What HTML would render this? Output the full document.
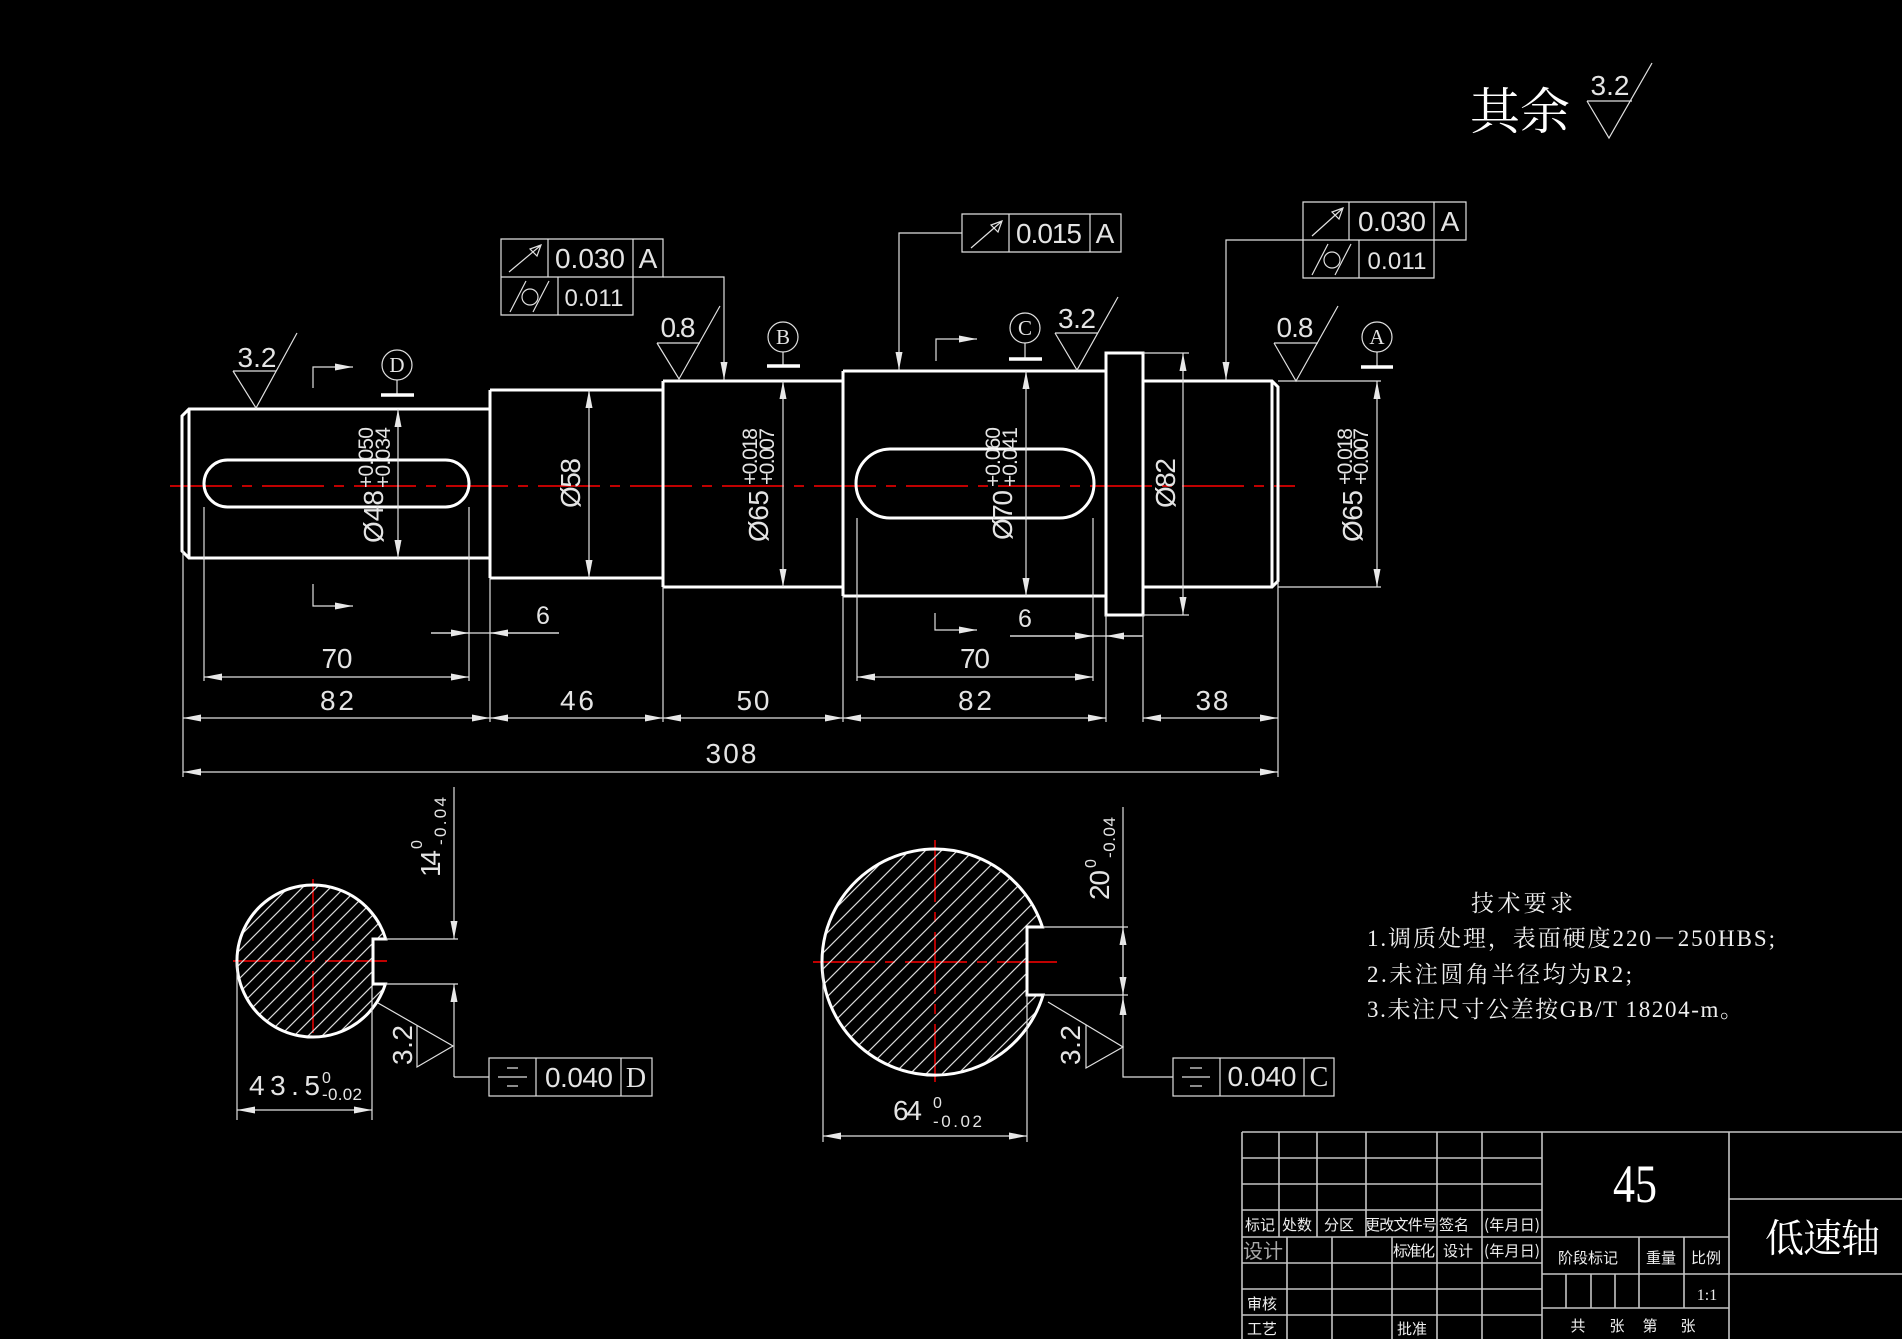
<!DOCTYPE html>
<html><head><meta charset="utf-8">
<style>html,body{margin:0;padding:0;background:#000;overflow:hidden}svg{display:block}</style>
</head><body>
<svg width="1902" height="1339" viewBox="0 0 1902 1339" xmlns="http://www.w3.org/2000/svg">
<defs>
<marker id="a" viewBox="0 0 18 7" refX="18" refY="3.5" markerWidth="18" markerHeight="7" markerUnits="userSpaceOnUse" orient="auto-start-reverse"><path d="M0,0L18,3.5L0,7z" fill="#e8e8e8"/></marker>
<pattern id="h1" patternUnits="userSpaceOnUse" width="14" height="14"><path d="M0,14L14,0M-4,4L4,-4M10,18L18,10" stroke="#d8d8d8" stroke-width="1.2"/></pattern>
<pattern id="h2" patternUnits="userSpaceOnUse" width="16" height="16"><path d="M0,16L16,0M-4,4L4,-4M12,20L20,12" stroke="#d8d8d8" stroke-width="1.2"/></pattern>
</defs>
<rect width="1902" height="1339" fill="#000"/>

<!-- centerlines -->
<g stroke="#ff0000" stroke-width="1.4" fill="none" stroke-dasharray="62,10,10,10">
<line x1="170" y1="486" x2="1295" y2="486"/>
<line x1="233" y1="961" x2="393" y2="961"/>
<line x1="313" y1="879" x2="313" y2="1042"/>
<line x1="813" y1="962" x2="1057" y2="962"/>
<line x1="935" y1="840" x2="935" y2="1082"/>
</g>

<!-- section fills -->
<path d="M385.7,939 L373,939 L373,984 L385.4,984 A76,76 0 1,1 385.7,939 Z" fill="url(#h1)" stroke="#fff" stroke-width="3"/>
<path d="M1042.4,927 L1027,927 L1027,995 L1043.1,995 A113,113 0 1,1 1042.4,927 Z" fill="url(#h2)" stroke="#fff" stroke-width="3"/>

<!-- shaft outline -->
<g stroke="#fff" stroke-width="3" fill="none" stroke-linejoin="miter">
<path d="M490,409 H189 L182,416 V551 L189,558 H490"/>
<path d="M189,409 V558"/>
<path d="M490,390 V578 M490,390 H663 M490,578 H663"/>
<path d="M663,381 V587 M663,381 H843 M663,587 H843"/>
<path d="M843,371 V596 M843,371 H1106 M843,596 H1106"/>
<rect x="1106" y="353" width="37" height="262"/>
<path d="M1143,381 H1272 L1278,387 V581 L1272,587 H1143"/>
<path d="M1272,381 V587"/>
<rect x="204" y="460" width="265" height="47" rx="23.5"/>
<rect x="856" y="449" width="238" height="69" rx="34.5"/>
</g>

<!-- thin lines -->
<g stroke="#e0e0e0" stroke-width="1.2" fill="none">
<path d="M183,551 V777 M204,507 V681 M469,507 V681 M490,578 V722 M663,587 V722 M843,596 V722 M857,518 V681 M1093,518 V681 M1106,615 V722 M1143,615 V722 M1278,581 V777"/>
<path d="M1143,353 H1189 M1143,615 H1189 M1278,381 H1381 M1278,587 H1381"/>
<g marker-start="url(#a)" marker-end="url(#a)">
<line x1="204" y1="677" x2="469" y2="677"/>
<line x1="183" y1="718" x2="490" y2="718"/>
<line x1="490" y1="718" x2="663" y2="718"/>
<line x1="663" y1="718" x2="843" y2="718"/>
<line x1="857" y1="677" x2="1093" y2="677"/>
<line x1="843" y1="718" x2="1106" y2="718"/>
<line x1="1143" y1="718" x2="1278" y2="718"/>
<line x1="183" y1="772" x2="1278" y2="772"/>
<line x1="398" y1="409" x2="398" y2="558"/>
<line x1="589" y1="390" x2="589" y2="578"/>
<line x1="783" y1="381" x2="783" y2="587"/>
<line x1="1026" y1="371" x2="1026" y2="596"/>
<line x1="1183" y1="353" x2="1183" y2="615"/>
<line x1="1377" y1="381" x2="1377" y2="587"/>
<line x1="237" y1="1110" x2="372" y2="1110"/>
<line x1="823" y1="1136" x2="1027" y2="1136"/>
<line x1="1123" y1="927" x2="1123" y2="995"/>
</g>
<path d="M431,633 H559"/>
<line x1="431" y1="633" x2="469" y2="633" marker-end="url(#a)"/>
<line x1="559" y1="633" x2="490" y2="633" marker-end="url(#a)"/>
<path d="M1010,636 H1143"/>
<line x1="1010" y1="636" x2="1093" y2="636" marker-end="url(#a)"/>
<line x1="1143" y1="636" x2="1106" y2="636" marker-end="url(#a)"/>
<path d="M663,277 H724 V380" marker-end="url(#a)"/>
<path d="M962,233 H899 V370" marker-end="url(#a)"/>
<path d="M1303,240 H1226 V380" marker-end="url(#a)"/>
<path d="M313,388 V367 H353" marker-end="url(#a)"/>
<path d="M313,584 V606 H353" marker-end="url(#a)"/>
<path d="M936,361 V339 H977" marker-end="url(#a)"/>
<path d="M935,613 V630 H977" marker-end="url(#a)"/>
<path d="M233,371 H276 M233,371 L256,408 L297,333"/>
<path d="M657,343 H700 M657,343 L679,379 L720,306"/>
<path d="M1055,333 H1098 M1055,333 L1077,370 L1118,297"/>
<path d="M1274,343 H1318 M1274,343 L1296,381 L1338,306"/>
<path d="M1587,101 H1632 M1587,101 L1609,138 L1652,63"/>
<path d="M417,1025 V1067 L453,1046 L378,1003"/>
<path d="M1086,1025 V1068 L1123,1047 L1048,1002"/>
<circle cx="397" cy="365" r="15"/><path d="M397,380 V395"/>
<circle cx="783" cy="337" r="15"/><path d="M783,352 V366"/>
<circle cx="1025" cy="328" r="15"/><path d="M1025,343 V359"/>
<circle cx="1377" cy="337" r="15"/><path d="M1377,352 V367"/>
<path d="M386,939 H458 M385,984 H458"/>
<line x1="454" y1="787" x2="454" y2="939" marker-end="url(#a)"/>
<line x1="454" y1="1077" x2="454" y2="984" marker-end="url(#a)"/>
<path d="M454,1077 H489"/>
<path d="M237,961 V1120 M372,986 V1120"/>
<path d="M1043,927 H1128 M1043,995 H1128"/>
<path d="M1123,807 V1077 H1173"/>
<line x1="1123" y1="1015" x2="1123" y2="997" marker-end="url(#a)"/>
<path d="M823,962 V1142 M1027,995 V1142"/>
<path d="M501,239 H663 V277 H501 Z M548,239 V277 M633,239 V277 M501,277 V315 H633 V277 M558,277 V315"/>
<path d="M962,214 H1121 V252 H962 Z M1009,214 V252 M1090,214 V252"/>
<path d="M1303,202 H1466 V240 H1303 Z M1349,202 V240 M1434,202 V240 M1303,240 V278 H1434 V240 M1359,240 V278"/>
<rect x="489" y="1058" width="163" height="38"/><path d="M536,1058 V1096 M621,1058 V1096"/>
<rect x="1173" y="1058" width="161" height="38"/><path d="M1220,1058 V1096 M1304,1058 V1096"/>
<path d="M509,272 L540,246 M541,245 L530,249 L537,256 Z"/>
<path d="M971,248 L1001,222 M1002,221 L991,225 L998,232 Z"/>
<path d="M1312,236 L1342,209 M1343,208 L1332,212 L1339,219 Z"/>
<circle cx="530" cy="297" r="8"/><path d="M510,312 L526,281 M533,312 L549,281"/>
<circle cx="1332" cy="260" r="8"/><path d="M1312,275 L1328,244 M1335,275 L1351,244"/>
<path d="M507,1068 H518 M498,1077 H527 M507,1086 H518"/>
<path d="M1190,1068 H1202 M1182,1077 H1210 M1190,1086 H1202"/>
</g>
<g stroke="#fff" stroke-width="3.5">
<path d="M381,395 H414 M767,366 H800 M1009,359 H1042 M1361,367 H1393"/>
</g>

<g font-family="Liberation Sans, sans-serif" fill="#e4e4e4" font-size="28" text-anchor="middle">
<text x="543" y="624" font-size="25">6</text>
<text x="337" y="668" textLength="31">70</text>
<text x="337" y="710" textLength="34">82</text>
<text x="577" y="710" textLength="34">46</text>
<text x="753" y="710" textLength="33">50</text>
<text x="731" y="763" textLength="51">308</text>
<text x="1025" y="627" font-size="25">6</text>
<text x="975" y="668" textLength="30">70</text>
<text x="975" y="710" textLength="34">82</text>
<text x="1212" y="710" textLength="33">38</text>
<text x="257" y="367" textLength="39">3.2</text>
<text x="678" y="337" textLength="35">0.8</text>
<text x="1077" y="328" textLength="38">3.2</text>
<text x="1295" y="337" textLength="37">0.8</text>
<text x="1610" y="95" textLength="39">3.2</text>
<text x="590" y="268" textLength="70">0.030</text>
<text x="648" y="268">A</text>
<text x="594" y="306" font-size="24" textLength="59">0.011</text>
<text x="1049" y="243" textLength="66">0.015</text>
<text x="1105" y="243">A</text>
<text x="1392" y="231" textLength="68">0.030</text>
<text x="1450" y="231">A</text>
<text x="1397" y="269" font-size="24" textLength="59">0.011</text>
<text x="579" y="1087" textLength="68">0.040</text>
<text x="636" y="1087" font-family="Liberation Serif, serif">D</text>
<text x="1262" y="1086" textLength="69">0.040</text>
<text x="1319" y="1086" font-family="Liberation Serif, serif">C</text>
</g>
<g font-family="Liberation Serif, serif" fill="#e4e4e4" font-size="21" text-anchor="middle">
<text x="397" y="372">D</text>
<text x="783" y="344">B</text>
<text x="1025" y="335">C</text>
<text x="1377" y="344">A</text>
</g>

<g font-family="Liberation Sans, sans-serif" fill="#e4e4e4">
<text transform="translate(383,543) rotate(-90)" font-size="28" textLength="53">Ø48</text>
<text transform="translate(373,488) rotate(-90)" font-size="21" textLength="61">+0.050</text>
<text transform="translate(390,488) rotate(-90)" font-size="21" textLength="61">+0.034</text>
<text transform="translate(580,508) rotate(-90)" font-size="28" textLength="50">Ø58</text>
<text transform="translate(768,542) rotate(-90)" font-size="28" textLength="52">Ø65</text>
<text transform="translate(757,485) rotate(-90)" font-size="21" textLength="57">+0.018</text>
<text transform="translate(774,485) rotate(-90)" font-size="21" textLength="57">+0.007</text>
<text transform="translate(1012,540) rotate(-90)" font-size="28" textLength="50">Ø70</text>
<text transform="translate(1000,487) rotate(-90)" font-size="21" textLength="60">+0.060</text>
<text transform="translate(1017,487) rotate(-90)" font-size="21" textLength="60">+0.041</text>
<text transform="translate(1175,508) rotate(-90)" font-size="28" textLength="50">Ø82</text>
<text transform="translate(1362,542) rotate(-90)" font-size="28" textLength="52">Ø65</text>
<text transform="translate(1352,485) rotate(-90)" font-size="21" textLength="57">+0.018</text>
<text transform="translate(1368,485) rotate(-90)" font-size="21" textLength="57">+0.007</text>
<text transform="translate(440,877) rotate(-90)" font-size="28" textLength="27">14</text>
<text transform="translate(422,849) rotate(-90)" font-size="16" textLength="9">0</text>
<text transform="translate(446,845) rotate(-90)" font-size="17" textLength="48">-0.04</text>
<text transform="translate(412,1065) rotate(-90)" font-size="28" textLength="40">3.2</text>
<text x="249" y="1095" font-size="28" textLength="71">43.5</text>
<text x="322" y="1083" font-size="16" textLength="9">0</text>
<text x="322" y="1100" font-size="17" textLength="40">-0.02</text>
<text transform="translate(1109,900) rotate(-90)" font-size="28" textLength="30">20</text>
<text transform="translate(1096,868) rotate(-90)" font-size="16" textLength="9">0</text>
<text transform="translate(1115,858) rotate(-90)" font-size="17" textLength="41">-0.04</text>
<text transform="translate(1080,1065) rotate(-90)" font-size="28" textLength="40">3.2</text>
<text x="893" y="1120" font-size="28" textLength="29">64</text>
<text x="933" y="1108" font-size="16" textLength="9">0</text>
<text x="933" y="1127" font-size="17" textLength="49">-0.02</text>
</g>

<text x="1470" y="129" font-family="Liberation Serif, 'Noto Serif CJK SC', serif" font-size="50" fill="#fff" textLength="100">其余</text>

<g font-family="Liberation Serif, 'Noto Serif CJK SC', serif" fill="#f0f0f0" font-size="23">
<text x="1471" y="911" textLength="102">技术要求</text>
<text x="1367" y="946" textLength="408">1.调质处理，表面硬度220－250HBS;</text>
<text x="1367" y="982" textLength="265">2.未注圆角半径均为R2;</text>
<text x="1367" y="1017" textLength="376">3.未注尺寸公差按GB/T 18204-m。</text>
</g>

<g stroke="#c4c4c4" stroke-width="1.6" fill="none">
<path d="M1242,1132 H1902 M1242,1132 V1339"/>
<path d="M1242,1158 H1542 M1242,1184 H1542 M1242,1210 H1542 M1242,1237 H1729 M1242,1263 H1542 M1242,1289 H1542 M1242,1315 H1542"/>
<path d="M1279,1132 V1237 M1317,1132 V1237 M1366,1132 V1237 M1437,1132 V1339 M1482,1132 V1339 M1542,1132 V1339"/>
<path d="M1287,1237 V1339 M1332,1237 V1339 M1392,1237 V1339"/>
<path d="M1729,1132 V1339 M1542,1274 H1902 M1542,1308 H1729 M1729,1199 H1902"/>
<path d="M1639,1237 V1308 M1684,1237 V1308 M1566,1274 V1308 M1591,1274 V1308 M1615,1274 V1308"/>
</g>
<g font-family="'Noto Sans CJK SC', 'WenQuanYi Zen Hei', sans-serif" fill="#eee" font-size="15" text-anchor="middle">
<text x="1260" y="1230">标记</text>
<text x="1297" y="1230">处数</text>
<text x="1339" y="1230">分区</text>
<text x="1401" y="1230" textLength="72">更改文件号</text>
<text x="1454" y="1230">签名</text>
<text x="1512" y="1230" textLength="56">(年月日)</text>
<text x="1263" y="1258" font-size="20" fill="#a8a8a8">设计</text>
<text x="1414" y="1256" textLength="42">标准化</text>
<text x="1458" y="1256">设计</text>
<text x="1512" y="1256" textLength="56">(年月日)</text>
<text x="1262" y="1309">审核</text>
<text x="1262" y="1334">工艺</text>
<text x="1412" y="1334">批准</text>
<text x="1588" y="1263" textLength="60">阶段标记</text>
<text x="1661" y="1263">重量</text>
<text x="1706" y="1263">比例</text>
<text x="1578" y="1331">共</text>
<text x="1617" y="1331">张</text>
<text x="1650" y="1331">第</text>
<text x="1688" y="1331">张</text>
</g>
<text x="1707" y="1300" font-family="Liberation Serif, serif" font-size="16" fill="#eee" text-anchor="middle">1:1</text>
<text x="1613" y="1202" font-family="Liberation Serif, serif" font-size="54" fill="#fff" textLength="44" lengthAdjust="spacingAndGlyphs">45</text>
<text x="1765" y="1252" font-family="Liberation Serif, 'Noto Serif CJK SC', serif" font-size="39" fill="#fff" textLength="115">低速轴</text>
</svg>
</body></html>
